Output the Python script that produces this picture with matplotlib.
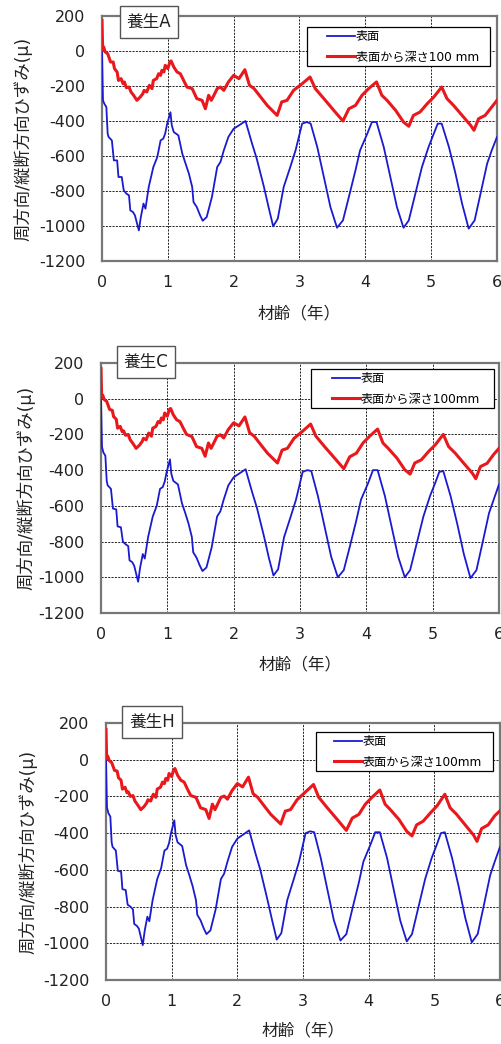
import matplotlib
matplotlib.use("Agg")
import matplotlib.pyplot as plt
from matplotlib.patches import Rectangle

plt.rcParams['font.family'] = ['DejaVu Sans', 'Noto Sans CJK JP']
plt.rcParams['axes.unicode_minus'] = False

# ---------------- data ----------------
blue_x = [0.0, 0.015, 0.035, 0.066, 0.086, 0.10, 0.15, 0.18, 0.23, 0.25, 0.30, 0.33, 0.37, 0.41,
          0.43, 0.47, 0.50, 0.52, 0.56, 0.59, 0.63, 0.66, 0.71, 0.78, 0.84, 0.89, 0.93, 0.96, 0.99,
          1.04, 1.06, 1.09, 1.16, 1.22, 1.27, 1.32, 1.37, 1.39, 1.44, 1.49, 1.53, 1.59, 1.67, 1.75,
          1.80, 1.85, 1.92, 2.00, 2.08, 2.18, 2.28, 2.35, 2.46, 2.53, 2.60, 2.67, 2.76, 2.86, 2.94,
          3.04, 3.11, 3.17, 3.27, 3.37, 3.47, 3.57, 3.66, 3.75, 3.85, 3.92, 4.03, 4.10, 4.17, 4.28,
          4.38, 4.48, 4.58, 4.66, 4.76, 4.86, 4.96, 5.04, 5.10, 5.16, 5.27, 5.37, 5.47, 5.57, 5.66,
          5.75, 5.85, 5.92, 6.00]
blue_A = [0, -282, -301, -320, -472, -491, -511, -625, -625, -720, -720, -796, -815, -825,
          -911, -920, -939, -968, -1025, -949, -872, -901, -777, -663, -606, -511, -501, -472, -415,
          -350, -425, -463, -482, -587, -644, -701, -777, -863, -892, -939, -970, -949, -834, -663,
          -634, -568, -491, -444, -425, -400, -530, -615, -777, -892, -1002, -958, -777, -663, -568,
          -415, -406, -415, -549, -720, -892, -1010, -968, -834, -682, -568, -472, -406, -406, -549,
          -720, -892, -1010, -968, -815, -663, -549, -472, -415, -415, -549, -701, -873, -1015, -968,
          -815, -644, -568, -491]
blue_C = [0, -270, -300, -320, -460, -485, -505, -615, -620, -715, -720, -800, -815, -825,
          -905, -915, -935, -965, -1025, -945, -870, -895, -775, -660, -600, -505, -495, -465, -410,
          -340, -420, -460, -480, -585, -640, -700, -775, -860, -890, -935, -965, -945, -830, -660,
          -630, -565, -485, -440, -420, -395, -525, -610, -775, -890, -990, -955, -775, -660, -565,
          -410, -400, -405, -545, -715, -885, -1000, -960, -830, -680, -565, -470, -400, -400, -545,
          -715, -885, -1000, -960, -810, -660, -545, -470, -410, -405, -545, -700, -870, -1005, -960,
          -810, -640, -565, -480]
blue_H = [0, -260, -290, -310, -450, -475, -495, -605, -610, -705, -710, -790, -800, -815,
          -895, -905, -920, -950, -1010, -930, -855, -880, -765, -650, -590, -495, -485, -455, -400,
          -330, -410, -450, -470, -575, -630, -690, -765, -845, -875, -920, -950, -930, -815, -650,
          -620, -555, -475, -430, -410, -385, -515, -600, -765, -875, -980, -945, -765, -650, -555,
          -400, -390, -395, -535, -705, -875, -985, -950, -815, -670, -555, -460, -395, -395, -535,
          -705, -875, -990, -950, -800, -650, -535, -460, -400, -395, -535, -690, -860, -995, -950,
          -800, -630, -555, -475]

red_x = [0.0, 0.01, 0.025, 0.05, 0.086, 0.13, 0.17, 0.19, 0.23, 0.25, 0.29, 0.32, 0.34, 0.37,
         0.41, 0.44, 0.48, 0.53, 0.58, 0.62, 0.64, 0.68, 0.72, 0.76, 0.78, 0.83, 0.86, 0.89, 0.91,
         0.94, 0.96, 1.00, 1.03, 1.05, 1.09, 1.14, 1.19, 1.24, 1.29, 1.37, 1.44, 1.52, 1.57, 1.62,
         1.66, 1.70, 1.75, 1.80, 1.85, 1.92, 2.00, 2.08, 2.17, 2.24, 2.31, 2.41, 2.51, 2.66, 2.73,
         2.81, 2.91, 3.04, 3.16, 3.24, 3.37, 3.52, 3.66, 3.75, 3.85, 3.95, 4.05, 4.17, 4.25, 4.33,
         4.46, 4.58, 4.66, 4.73, 4.83, 4.94, 5.04, 5.16, 5.24, 5.34, 5.47, 5.60, 5.65, 5.72, 5.82,
         5.92, 6.00]
red_A = [175, 4, 23, -6, -15, -63, -63, -101, -120, -168, -158, -187, -177, -210,
         -206, -234, -253, -282, -263, -244, -225, -234, -196, -215, -168, -158, -130, -139, -110,
         -120, -82, -101, -63, -57, -91, -120, -130, -168, -206, -215, -272, -282, -330, -253,
         -282, -253, -215, -206, -225, -177, -139, -158, -107, -196, -215, -263, -311, -368, -291,
         -282, -225, -187, -149, -215, -272, -339, -400, -330, -311, -253, -215, -177, -253, -282,
         -339, -406, -430, -368, -349, -301, -263, -206, -272, -311, -368, -425, -453, -387, -368,
         -320, -282]
red_C = [170, 5, 20, -5, -15, -60, -65, -100, -115, -165, -155, -185, -180, -205,
         -200, -230, -250, -278, -260, -240, -222, -230, -192, -210, -165, -155, -128, -135, -108,
         -118, -80, -98, -60, -55, -90, -118, -128, -165, -200, -212, -268, -278, -322, -248,
         -278, -248, -210, -202, -220, -172, -135, -152, -102, -190, -210, -258, -305, -360, -288,
         -278, -222, -182, -142, -210, -268, -332, -392, -325, -305, -248, -210, -170, -248, -278,
         -332, -398, -422, -360, -342, -295, -258, -200, -268, -305, -362, -418, -448, -380, -362,
         -312, -278]
red_H = [165, 5, 20, -5, -15, -58, -62, -98, -112, -160, -150, -180, -175, -200,
         -195, -225, -245, -272, -255, -235, -218, -225, -188, -205, -160, -150, -122, -130, -102,
         -112, -75, -92, -55, -48, -85, -112, -122, -160, -195, -205, -262, -272, -320, -242,
         -272, -242, -205, -198, -215, -168, -130, -148, -95, -185, -205, -252, -298, -350, -280,
         -272, -218, -175, -135, -205, -262, -325, -385, -318, -298, -242, -205, -165, -242, -272,
         -325, -390, -415, -355, -335, -290, -252, -188, -262, -298, -355, -412, -445, -375, -355,
         -305, -278]

panel_titles = ['養生A', '養生C', '養生H']
legend_depth = ['表面から深さ100 mm', '表面から深さ100mm', '表面から深さ100mm']
label_surface = '表面'
x_ticks = [0, 1, 2, 3, 4, 5, 6]
y_ticks = [200, 0, -200, -400, -600, -800, -1000, -1200]
xlabel = '材齢（年）'
ylabel = '周方向/縦断方向ひずみ(μ)'

blue_sets = [blue_A, blue_C, blue_H]
red_sets = [red_A, red_C, red_H]

# ---------------- layout (pixels) ----------------
W, H = 502, 1044
fig = plt.figure(figsize=(W / 100, H / 100), dpi=100)

axes_px = [(102, 497, 16, 261), (101, 499, 363, 613), (106, 500, 723, 980)]
title_px = [(149, 22), (146, 362), (152, 722)]
legbox_px = [(307, 490, 27, 66), (311, 494, 369, 408), (316, 493, 732, 771)]
leganchor_px = [(327, 30), (332, 372), (334, 735)]
ylab_x = [-0.175, -0.166, -0.173]
xlab_y = [-0.176, -0.168, -0.163]

for i in range(3):
    l, r, t, b = axes_px[i]
    ax = fig.add_axes([l / W, 1 - b / H, (r - l) / W, (b - t) / H])
    ax.plot(blue_x, blue_sets[i], color='#1a1acf', lw=1.3, label=label_surface, zorder=3)
    ax.plot(red_x, red_sets[i], color='#e8181c', lw=2.2, label=legend_depth[i], zorder=4)
    ax.set_xlim(0, 6)
    ax.set_ylim(-1200, 200)
    ax.set_xticks(x_ticks)
    ax.set_yticks(y_ticks)
    ax.grid(True, color='black', linestyle=(0, (2.5, 1.5)), linewidth=0.6)
    ax.tick_params(axis='both', length=0, labelsize=11.5, colors='#222222')
    ax.tick_params(axis='y', pad=12)
    ax.tick_params(axis='x', pad=10)
    for sp in ax.spines.values():
        sp.set_color('#777777')
        sp.set_linewidth(1.6)
    ax.set_xlabel(xlabel, fontsize=12, color='#222222')
    ax.xaxis.set_label_coords(0.5, xlab_y[i])
    ax.set_ylabel(ylabel, fontsize=12.5, color='#222222')
    ax.yaxis.set_label_coords(ylab_x[i], 0.5)

    # legend frame
    bx0, bx1, by0, by1 = legbox_px[i]
    fig.patches.append(Rectangle((bx0 / W, 1 - by1 / H), (bx1 - bx0) / W, (by1 - by0) / H,
                                 transform=fig.transFigure, fc='white', ec='black',
                                 lw=0.9, zorder=8))
    lx, ly = leganchor_px[i]
    leg = fig.legend(*ax.get_legend_handles_labels(), loc='upper left',
                     bbox_to_anchor=(lx / W, 1 - ly / H),
                     bbox_transform=fig.transFigure, fontsize=8.7, frameon=False,
                     handlelength=2.3, handletextpad=0.1, borderpad=0.0,
                     labelspacing=0.62, borderaxespad=0)
    leg.set_zorder(9)

    tx, ty = title_px[i]
    fig.text(tx / W, 1 - ty / H, panel_titles[i], fontsize=12, ha='center', va='center',
             color='#222222',
             bbox=dict(boxstyle='square,pad=0.4', fc='white', ec='#555555', lw=1.0),
             zorder=10)

fig.savefig('out.png', dpi=100)
